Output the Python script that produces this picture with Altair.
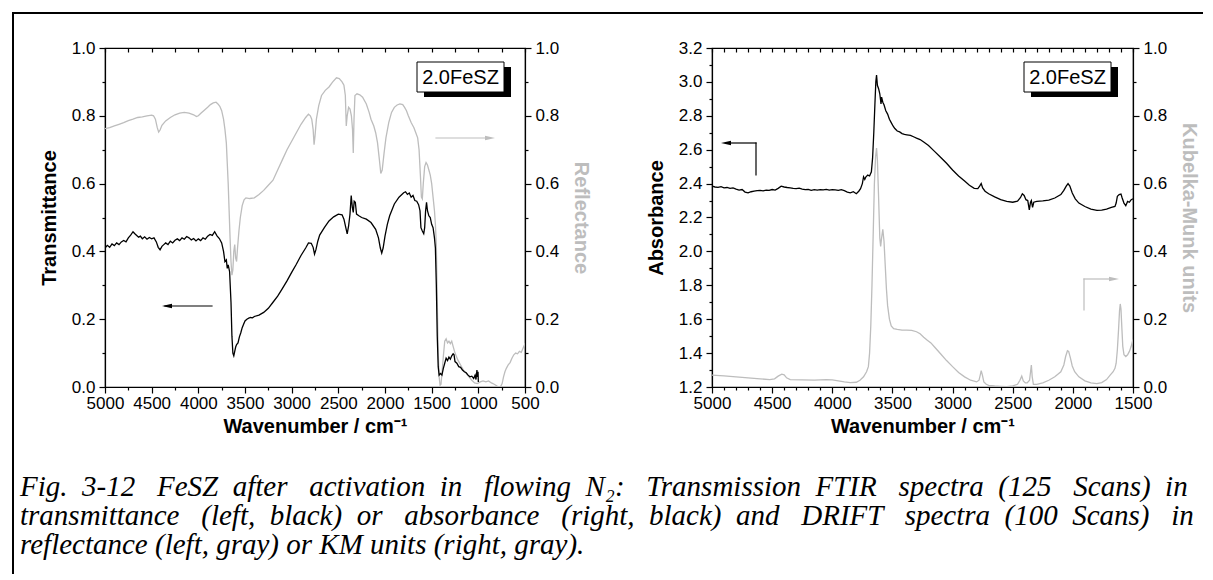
import altair as alt
import pandas as pd

# ---------------- data: left panel ----------------
WN_T = [5000, 4975, 4950, 4925, 4900, 4875, 4850, 4825, 4800, 4775, 4750, 4725, 4700, 4680, 4660, 4640,
        4620, 4600, 4575, 4550, 4525, 4500, 4475, 4450, 4430, 4410, 4390, 4370, 4350, 4325, 4300, 4275,
        4250, 4225, 4200, 4175, 4150, 4125, 4100, 4075, 4050, 4025, 4000, 3975, 3950, 3925, 3900, 3875,
        3850, 3825, 3800, 3775, 3750, 3730, 3715, 3700, 3690, 3680, 3665, 3650, 3640, 3630, 3620, 3610,
        3600, 3590, 3575, 3560, 3545, 3530, 3515, 3500, 3480, 3460, 3440, 3420, 3400, 3350, 3300, 3250,
        3200, 3150, 3100, 3050, 3000, 2950, 2900, 2850, 2820, 2790, 2770, 2755, 2740, 2720, 2700, 2650,
        2600, 2550, 2500, 2460, 2440, 2420, 2405, 2390, 2375, 2362, 2350, 2340, 2330, 2318, 2305, 2280,
        2250, 2200, 2150, 2100, 2070, 2050, 2035, 2020, 2000, 1975, 1950, 1900, 1850, 1800, 1780, 1760,
        1740, 1720, 1700, 1680, 1660, 1640, 1625, 1615, 1600, 1585, 1575, 1565, 1555, 1545, 1530, 1515,
        1500, 1485, 1470, 1460, 1450, 1440, 1430, 1420, 1405, 1390, 1375, 1360, 1345, 1330, 1315, 1300,
        1285, 1270, 1260, 1250, 1230, 1210, 1190, 1170, 1150, 1130, 1110, 1090, 1070, 1050, 1035, 1025,
        1015, 1008, 1003, 1000]
T = [0.410, 0.418, 0.412, 0.422, 0.417, 0.425, 0.420, 0.428, 0.432, 0.428, 0.440, 0.448, 0.458, 0.452, 0.447, 0.442,
     0.445, 0.437, 0.443, 0.436, 0.441, 0.437, 0.440, 0.428, 0.412, 0.405, 0.415, 0.420, 0.425, 0.420, 0.430, 0.425,
     0.433, 0.437, 0.432, 0.440, 0.436, 0.444, 0.440, 0.434, 0.438, 0.431, 0.437, 0.432, 0.440, 0.436, 0.445, 0.450,
     0.447, 0.458, 0.446, 0.438, 0.425, 0.400, 0.370, 0.375, 0.350, 0.360, 0.340, 0.250, 0.150, 0.100, 0.092, 0.105,
     0.118, 0.125, 0.130, 0.148, 0.160, 0.175, 0.185, 0.195, 0.200, 0.203, 0.205, 0.204, 0.208, 0.212, 0.220, 0.232,
     0.250, 0.268, 0.290, 0.313, 0.338, 0.362, 0.388, 0.410, 0.425, 0.424, 0.412, 0.392, 0.405, 0.430, 0.448, 0.470,
     0.490, 0.502, 0.510, 0.508, 0.495, 0.470, 0.452, 0.475, 0.510, 0.565, 0.530, 0.515, 0.548, 0.545, 0.510, 0.505,
     0.500, 0.495, 0.485, 0.465, 0.440, 0.410, 0.395, 0.410, 0.445, 0.480, 0.505, 0.540, 0.560, 0.573, 0.576, 0.568,
     0.572, 0.560, 0.565, 0.550, 0.548, 0.538, 0.520, 0.470, 0.460, 0.452, 0.470, 0.520, 0.545, 0.520, 0.505, 0.500,
     0.480, 0.470, 0.440, 0.410, 0.300, 0.150, 0.060, 0.035, 0.040, 0.035, 0.055, 0.070, 0.085, 0.078, 0.088, 0.082,
     0.092, 0.098, 0.095, 0.075, 0.070, 0.060, 0.058, 0.050, 0.045, 0.042, 0.035, 0.030, 0.032, 0.025, 0.035, 0.022,
     0.050, 0.030, 0.045, 0.015]

WN_R = [5000, 4950, 4900, 4850, 4800, 4750, 4700, 4650, 4600, 4550, 4500, 4480, 4460, 4440, 4425, 4410,
        4390, 4350, 4300, 4250, 4200, 4150, 4100, 4050, 4020, 4000, 3970, 3930, 3900, 3870, 3840, 3810,
        3790, 3770, 3750, 3730, 3715, 3700, 3690, 3680, 3670, 3660, 3650, 3640, 3630, 3620, 3610, 3600,
        3590, 3580, 3565, 3550, 3530, 3510, 3490, 3450, 3400, 3350, 3300, 3250, 3200, 3150, 3100, 3050,
        3000, 2950, 2900, 2850, 2820, 2800, 2785, 2770, 2760, 2750, 2735, 2710, 2680, 2640, 2600, 2560,
        2520, 2490, 2460, 2440, 2425, 2415, 2405, 2390, 2375, 2360, 2348, 2340, 2332, 2322, 2300, 2270,
        2240, 2200, 2170, 2150, 2120, 2100, 2080, 2060, 2045, 2030, 2010, 1990, 1960, 1930, 1900, 1870,
        1840, 1810, 1790, 1770, 1750, 1720, 1690, 1670, 1650, 1635, 1620, 1610, 1600, 1590, 1575, 1560,
        1545, 1530, 1515, 1500, 1485, 1470, 1460, 1450, 1440, 1430, 1420, 1410, 1400, 1390, 1375, 1360,
        1345, 1330, 1315, 1300, 1285, 1270, 1250, 1220, 1190, 1160, 1130, 1100, 1070, 1040, 1010, 980,
        950, 920, 890, 860, 830, 800, 780, 760, 745, 730, 715, 700, 680, 660, 640, 620,
        600, 580, 560, 540, 520, 505, 500]
R = [0.762, 0.765, 0.770, 0.775, 0.780, 0.786, 0.790, 0.795, 0.797, 0.800, 0.802, 0.800, 0.790, 0.765, 0.752, 0.758,
     0.772, 0.785, 0.795, 0.803, 0.808, 0.810, 0.808, 0.803, 0.798, 0.800, 0.808, 0.818, 0.825, 0.833, 0.838, 0.840,
     0.835, 0.828, 0.815, 0.790, 0.760, 0.720, 0.660, 0.600, 0.520, 0.440, 0.370, 0.330, 0.345, 0.400, 0.420, 0.380,
     0.370, 0.410, 0.460, 0.500, 0.535, 0.552, 0.558, 0.556, 0.558, 0.568, 0.580, 0.595, 0.610, 0.640, 0.670, 0.700,
     0.725, 0.750, 0.775, 0.795, 0.805, 0.800, 0.790, 0.760, 0.715, 0.740, 0.790, 0.830, 0.860, 0.875, 0.885, 0.900,
     0.912, 0.910, 0.900, 0.890, 0.860, 0.770, 0.800, 0.825, 0.820, 0.800, 0.760, 0.690, 0.790, 0.860, 0.865, 0.862,
     0.855, 0.835, 0.810, 0.790, 0.770, 0.750, 0.720, 0.670, 0.630, 0.640, 0.690, 0.735, 0.780, 0.810, 0.825, 0.832,
     0.835, 0.833, 0.825, 0.815, 0.800, 0.780, 0.765, 0.750, 0.735, 0.700, 0.620, 0.560, 0.555, 0.600, 0.650, 0.662,
     0.655, 0.640, 0.625, 0.600, 0.560, 0.520, 0.480, 0.420, 0.250, 0.100, 0.030, 0.005, 0.008, 0.040, 0.090, 0.135,
     0.142, 0.130, 0.135, 0.128, 0.135, 0.120, 0.100, 0.080, 0.065, 0.050, 0.040, 0.030, 0.020, 0.012, 0.010, 0.015,
     0.018, 0.015, 0.018, 0.012, 0.008, 0.003, 0.000, 0.002, 0.010, 0.030, 0.045, 0.055, 0.065, 0.072, 0.085, 0.095,
     0.100, 0.098, 0.105, 0.102, 0.115, 0.125, 0.130]

# ---------------- data: right panel ----------------
WN_A = [5000, 4975, 4950, 4925, 4900, 4875, 4850, 4825, 4800, 4775, 4750, 4725, 4700, 4675, 4650, 4625,
        4600, 4575, 4550, 4525, 4500, 4475, 4450, 4425, 4400, 4375, 4350, 4325, 4300, 4275, 4250, 4225,
        4200, 4175, 4150, 4125, 4100, 4075, 4050, 4025, 4000, 3975, 3950, 3925, 3900, 3875, 3850, 3825,
        3800, 3780, 3765, 3750, 3740, 3730, 3720, 3705, 3690, 3675, 3665, 3655, 3645, 3638, 3632, 3625,
        3615, 3605, 3595, 3590, 3580, 3570, 3555, 3540, 3525, 3510, 3495, 3480, 3460, 3440, 3420, 3400,
        3380, 3350, 3320, 3300, 3270, 3240, 3200, 3150, 3100, 3050, 3000, 2950, 2900, 2860, 2820, 2790,
        2775, 2762, 2750, 2730, 2700, 2650, 2600, 2550, 2500, 2460, 2435, 2420, 2405, 2390, 2375, 2362,
        2352, 2345, 2335, 2325, 2300, 2250, 2200, 2150, 2100, 2075, 2055, 2040, 2025, 2005, 1980, 1950,
        1900, 1850, 1800, 1760, 1720, 1680, 1650, 1640, 1630, 1615, 1600, 1590, 1575, 1560, 1545, 1530,
        1515, 1500]
A = [2.385, 2.380, 2.378, 2.382, 2.375, 2.377, 2.372, 2.375, 2.368, 2.362, 2.365, 2.350, 2.345, 2.352, 2.355, 2.358,
     2.360, 2.357, 2.362, 2.360, 2.365, 2.362, 2.372, 2.385, 2.380, 2.377, 2.375, 2.372, 2.370, 2.373, 2.368, 2.364,
     2.366, 2.360, 2.364, 2.362, 2.365, 2.363, 2.366, 2.362, 2.365, 2.363, 2.360, 2.364, 2.358, 2.350, 2.345, 2.352,
     2.340, 2.355, 2.370, 2.400, 2.440, 2.425, 2.440, 2.450, 2.445, 2.470, 2.550, 2.700, 2.880, 3.000, 3.040, 2.980,
     2.960, 2.930, 2.870, 2.910, 2.880, 2.865, 2.830, 2.810, 2.780, 2.760, 2.740, 2.725, 2.710, 2.705, 2.695, 2.690,
     2.688, 2.685, 2.675, 2.668, 2.660, 2.645, 2.625, 2.590, 2.555, 2.520, 2.480, 2.445, 2.415, 2.390, 2.372, 2.370,
     2.385, 2.400, 2.375, 2.355, 2.340, 2.322, 2.305, 2.295, 2.290, 2.297, 2.318, 2.340, 2.330, 2.305, 2.300, 2.245,
     2.290, 2.300, 2.260, 2.290, 2.295, 2.298, 2.302, 2.315, 2.335, 2.360, 2.385, 2.400, 2.385, 2.345, 2.310, 2.285,
     2.265, 2.250, 2.242, 2.243, 2.250, 2.260, 2.265, 2.285, 2.325, 2.335, 2.338, 2.315, 2.285, 2.270, 2.295, 2.290,
     2.305, 2.310]

WN_KM = [5000, 4900, 4800, 4700, 4600, 4520, 4480, 4450, 4420, 4400, 4380, 4350, 4250, 4150, 4050, 4000,
         3950, 3900, 3850, 3800, 3770, 3740, 3715, 3700, 3690, 3680, 3670, 3660, 3650, 3640, 3632, 3625,
         3615, 3605, 3598, 3590, 3580, 3570, 3560, 3550, 3540, 3525, 3510, 3490, 3460, 3420, 3380, 3340,
         3300, 3270, 3240, 3210, 3180, 3150, 3100, 3050, 3000, 2950, 2900, 2850, 2800, 2780, 2770, 2762,
         2752, 2740, 2720, 2700, 2650, 2600, 2550, 2500, 2460, 2440, 2425, 2412, 2395, 2380, 2360, 2345,
         2338, 2328, 2300, 2250, 2200, 2150, 2100, 2075, 2060, 2045, 2035, 2020, 2005, 1985, 1950, 1900,
         1850, 1800, 1760, 1720, 1690, 1665, 1650, 1640, 1630, 1620, 1612, 1606, 1600, 1592, 1585, 1575,
         1560, 1545, 1530, 1515, 1500]
KM = [0.035, 0.033, 0.030, 0.027, 0.024, 0.022, 0.024, 0.032, 0.038, 0.036, 0.027, 0.022, 0.021, 0.020, 0.022, 0.021,
      0.018, 0.015, 0.013, 0.014, 0.020, 0.030, 0.045, 0.060, 0.100, 0.180, 0.300, 0.450, 0.600, 0.680, 0.705, 0.670,
      0.560, 0.440, 0.415, 0.440, 0.465, 0.430, 0.360, 0.290, 0.240, 0.200, 0.180, 0.172, 0.170, 0.168, 0.168, 0.167,
      0.163, 0.157, 0.147, 0.138, 0.130, 0.118, 0.098, 0.078, 0.060, 0.043, 0.030, 0.020, 0.015, 0.020, 0.035, 0.048,
      0.035, 0.015, 0.008, 0.005, 0.003, 0.002, 0.001, 0.003, 0.008, 0.020, 0.032, 0.018, 0.012, 0.012, 0.020, 0.065,
      0.030, 0.008, 0.008, 0.012, 0.020, 0.030, 0.045, 0.065, 0.090, 0.107, 0.105, 0.085, 0.062, 0.045, 0.030, 0.018,
      0.012, 0.010, 0.013, 0.022, 0.035, 0.045, 0.055, 0.070, 0.110, 0.170, 0.225, 0.245, 0.230, 0.170, 0.120, 0.095,
      0.090, 0.095, 0.105, 0.120, 0.140]

# ---------------- ticks / texts ----------------
X_LEFT_TICKS = list(range(5000, 499, -250))
X_RIGHT_TICKS = list(range(5000, 1499, -100))
Y01_TICKS = [round(i * 0.1, 1) for i in range(11)]
Y_ABS_TICKS = [round(1.2 + i * 0.1, 1) for i in range(21)]
SAMPLE_LABEL = "2.0FeSZ"
X_TITLE = "Wavenumber / cm\u207b\u00b9"
CAPTION = [
    "Fig. 3-12 FeSZ after activation in flowing N\u2082: Transmission FTIR spectra (125 Scans) in",
    "transmittance (left, black) or absorbance (right, black) and DRIFT spectra (100 Scans) in",
    "reflectance (left, gray) or KM units (right, gray).",
]

FONT = "Liberation Sans"
SERIF = "Liberation Serif"
GRAY = "#bdbdbd"
CAP_FS = 29

# Times-Italic advance widths (per 1000 em) used to emulate justified text
TI = {' ': 250, '(': 333, ')': 333, ',': 250, '.': 250, '-': 333, ':': 333, '\u2082': 500}
TI.update({d: 500 for d in "0123456789"})
TI.update(dict(zip("ABCDEFGHIJKLMNOPQRSTUVWXYZ",
                   [611, 611, 667, 722, 611, 611, 722, 722, 333, 444, 667, 556, 833, 667, 722, 611, 722, 611,
                    500, 556, 722, 611, 833, 611, 556, 556])))
TI.update(dict(zip("abcdefghijklmnopqrstuvwxyz",
                   [500, 500, 444, 500, 444, 278, 500, 500, 278, 278, 444, 278, 722, 500, 500, 500, 500, 389,
                    389, 278, 500, 444, 667, 444, 444, 389])))


def justify(line, width, fs):
    natural = sum(TI.get(c, 500) for c in line) * fs / 1000.0
    words = line.split(" ")
    gaps = len(words) - 1
    total = max(0, round((width - natural) / (0.25 * fs)))
    out, acc = words[0], 0
    for i, w in enumerate(words[1:], 1):
        target = round(total * i / gaps)
        out += " " + "\u00a0" * (target - acc) + w
        acc = target
    return out


ONE = pd.DataFrame({"k": [0]})
MAJ10 = "round(datum.value*10) % 2 == 0"


def x_bottom(ticks):
    return alt.Axis(orient="bottom", values=ticks, title=X_TITLE,
                    labelExpr="datum.value % 500 == 0 ? format(datum.value, 'd') : ''",
                    tickSize={"condition": {"test": "datum.value % 500 == 0", "value": 6}, "value": 3},
                    labelPadding=2, titlePadding=5, labelFlush=False, labelOverlap=False)


def x_top(ticks):
    return alt.Axis(orient="top", values=ticks, title=None, labels=False, domain=False,
                    tickSize=4, offset=-4)


def y_axis(orient, ticks, title, tcolor):
    return alt.Axis(orient=orient, values=ticks, title=title, titleColor=tcolor,
                    labelExpr=MAJ10 + " ? format(datum.value, '.1f') : ''",
                    tickSize={"condition": {"test": MAJ10, "value": 6}, "value": 3},
                    labelPadding=4, titlePadding=12, labelFlush=False, labelOverlap=False)


def hrule(x1, x2, y, color, w=1.2):
    return alt.Chart(ONE).mark_rule(color=color, strokeWidth=w, strokeCap="square").encode(
        x=alt.value(x1), x2=alt.value(x2), y=alt.value(y))


def vrule(x, y1, y2, color, w=1.2):
    return alt.Chart(ONE).mark_rule(color=color, strokeWidth=w, strokeCap="square").encode(
        x=alt.value(x), y=alt.value(y1), y2=alt.value(y2))


HEAD_L = "M-1,0L1,-0.45L1,0.45Z"
HEAD_R = "M1,0L-1,-0.45L-1,0.45Z"


def head(x, y, shape, color):
    return alt.Chart(ONE).mark_point(shape=shape, filled=True, size=100, color=color, opacity=1,
                                     strokeWidth=0).encode(x=alt.value(x), y=alt.value(y))


def label_box():
    shadow = alt.Chart(ONE).mark_rect(color="black").encode(
        x=alt.value(319), x2=alt.value(406), y=alt.value(19), y2=alt.value(49))
    box = alt.Chart(ONE).mark_rect(fill="white", stroke="black", strokeWidth=1).encode(
        x=alt.value(312), x2=alt.value(399), y=alt.value(14), y2=alt.value(44))
    txt = alt.Chart(ONE).mark_text(text=SAMPLE_LABEL, font=FONT, fontSize=20, color="black",
                                   align="center", baseline="middle").encode(
        x=alt.value(355.5), y=alt.value(30))
    return [shadow, box, txt]


def spectra(wn, vals, color, xdom, xaxis, ydom, yaxis):
    df = pd.DataFrame({"wn": wn, "v": vals})
    return alt.Chart(df).mark_line(color=color, strokeWidth=1.3, clip=True).encode(
        x=alt.X("wn:Q", scale=alt.Scale(domain=xdom, nice=False, zero=False), axis=xaxis),
        y=alt.Y("v:Q", scale=alt.Scale(domain=ydom, nice=False, zero=False), axis=yaxis),
    )


# ---------------- left panel ----------------
gray_l = spectra(WN_R, R, GRAY, [5000, 500], x_top(X_LEFT_TICKS), [0, 1],
                 y_axis("right", Y01_TICKS, "Reflectance", GRAY))
black_l = spectra(WN_T, T, "black", [5000, 500], x_bottom(X_LEFT_TICKS), [0, 1],
                  y_axis("left", Y01_TICKS, "Transmittance", "black"))

caption_layers = []
for i, line in enumerate(CAPTION):
    txt = justify(line, 1177, CAP_FS) if i < len(CAPTION) - 1 else line
    caption_layers.append(
        alt.Chart(ONE).mark_text(text=txt, font=SERIF, fontStyle="italic", fontSize=CAP_FS, color="black",
                                 align="left", baseline="alphabetic").encode(
            x=alt.value(-85), y=alt.value(448 + 29 * i)))

left = alt.layer(
    gray_l, black_l,
    *label_box(),
    hrule(60, 107, 258, "black"), head(62, 258, HEAD_L, "black"),
    hrule(331, 385, 90, GRAY), head(385, 90, HEAD_R, GRAY),
    hrule(-92, 1097, -35, "black", 2), vrule(-92, -35, 525, "black", 2),
    *caption_layers,
).resolve_scale(x="independent", y="independent").properties(width=420, height=339)

# ---------------- right panel ----------------
gray_r = spectra(WN_KM, KM, GRAY, [5000, 1500], x_top(X_RIGHT_TICKS), [0, 1],
                 y_axis("right", Y01_TICKS, "Kubelka-Munk units", GRAY))
black_r = spectra(WN_A, A, "black", [5000, 1500], x_bottom(X_RIGHT_TICKS), [1.2, 3.2],
                  y_axis("left", Y_ABS_TICKS, "Absorbance", "black"))

right = alt.layer(
    gray_r, black_r,
    *label_box(),
    hrule(14, 44, 95, "black"), vrule(44, 95, 127, "black"), head(14, 95, HEAD_L, "black"),
    vrule(372, 231, 262, GRAY), hrule(372, 402, 231, GRAY), head(402, 231, HEAD_R, GRAY),
).resolve_scale(x="independent", y="independent").properties(width=421, height=339)

chart = alt.hconcat(left, right, spacing=187, bounds="flush").properties(
    padding={"left": 2, "top": 2, "right": 0, "bottom": 0}
).configure_view(stroke="black", strokeWidth=1.2).configure_axis(
    grid=False, domainColor="black", domainWidth=1.2, tickColor="black", tickWidth=1.2,
    labelColor="black", labelFont=FONT, labelFontSize=17, titleFont=FONT, titleFontSize=20,
    titleFontWeight="bold",
)

chart.save("out.html", embed_options={"renderer": "svg", "actions": False})
